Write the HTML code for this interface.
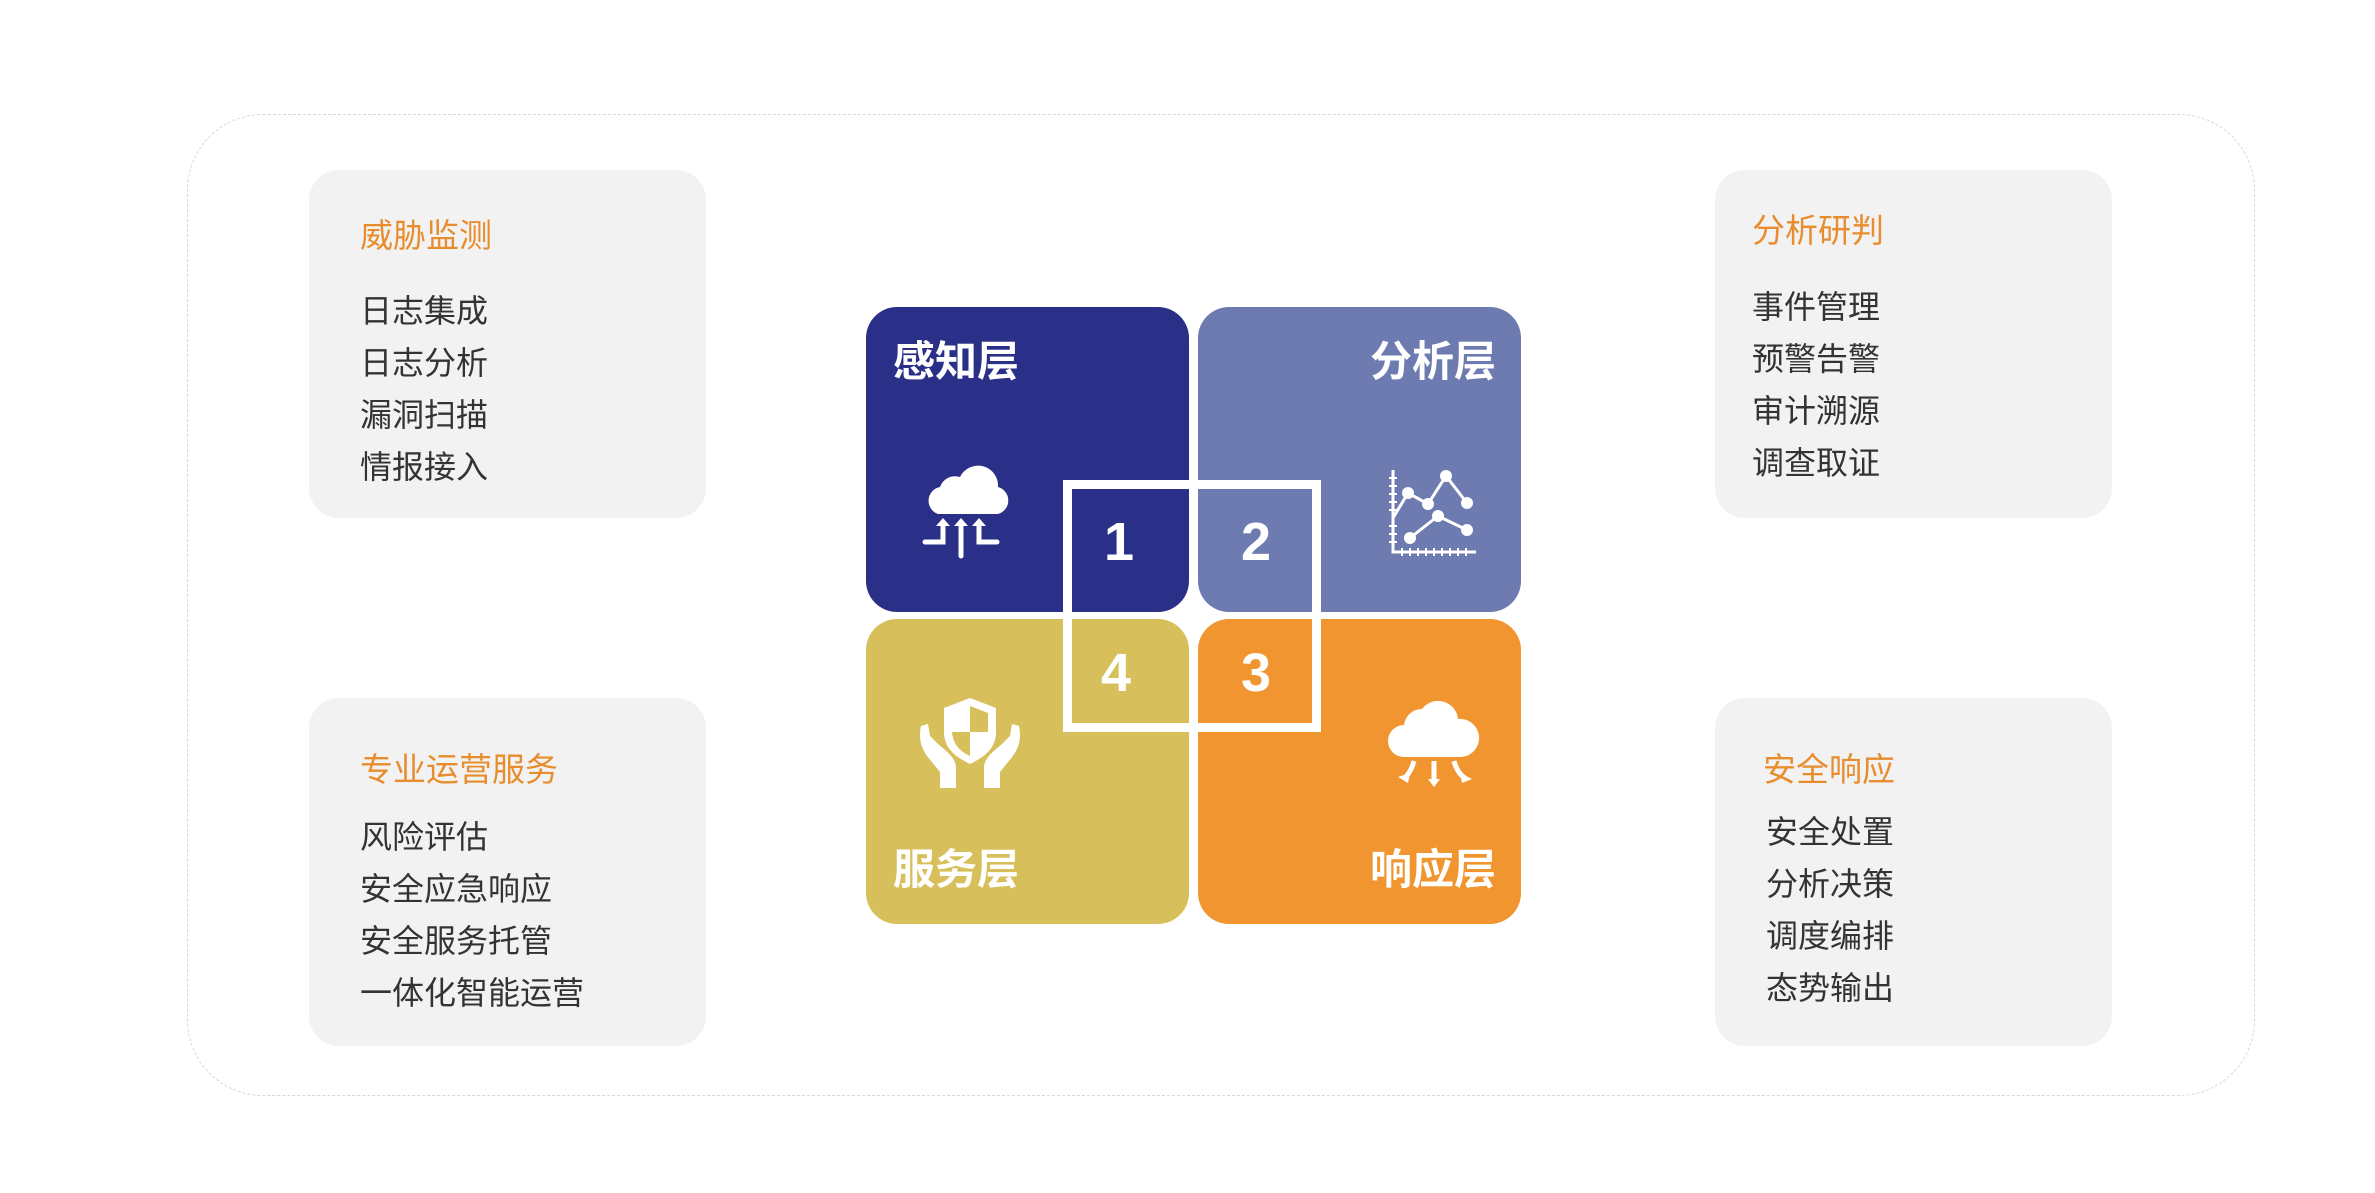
<!DOCTYPE html>
<html><head><meta charset="utf-8"><style>
*{margin:0;padding:0;box-sizing:border-box}
body{width:2375px;height:1193px;background:#fff;position:relative;overflow:hidden;font-family:"Liberation Sans","Noto Sans CJK SC",sans-serif}
.outer{position:absolute;left:187px;top:114px;width:2068px;height:982px;border:1.5px dashed #d8d8d8;border-radius:76px}
.box{position:absolute;width:397px;height:348px;background:#f2f2f2;border-radius:30px}
.t{position:absolute;color:#e88d2e;font-size:33px;line-height:40px;white-space:nowrap}
.it{position:absolute;color:#333;font-size:32px;line-height:52px;white-space:nowrap}
.q{position:absolute;width:323px;height:305px;border-radius:31px}
.qt{position:absolute;color:#fff;font-weight:bold;font-size:42px;line-height:50px;white-space:nowrap}
.num{position:absolute;color:#fff;font-size:54px;font-weight:bold;width:80px;text-align:center;line-height:60px}
svg{position:absolute}
</style></head><body>
<div class="outer"></div>

<div class="box" style="left:309px;top:170px"></div>
<div class="t" style="left:360px;top:216px">威胁监测</div>
<div class="it" style="left:360px;top:285px">日志集成<br>日志分析<br>漏洞扫描<br>情报接入</div>

<div class="box" style="left:1715px;top:170px"></div>
<div class="t" style="left:1752px;top:211px">分析研判</div>
<div class="it" style="left:1752px;top:281px">事件管理<br>预警告警<br>审计溯源<br>调查取证</div>

<div class="box" style="left:309px;top:698px"></div>
<div class="t" style="left:360px;top:750px">专业运营服务</div>
<div class="it" style="left:360px;top:811px">风险评估<br>安全应急响应<br>安全服务托管<br>一体化智能运营</div>

<div class="box" style="left:1715px;top:698px"></div>
<div class="t" style="left:1763px;top:750px">安全响应</div>
<div class="it" style="left:1766px;top:806px">安全处置<br>分析决策<br>调度编排<br>态势输出</div>

<div class="q" style="left:866px;top:307px;background:#2a2f88"></div>
<div class="q" style="left:1198px;top:307px;background:#6e7bb1"></div>
<div class="q" style="left:866px;top:619px;background:#d7c05c"></div>
<div class="q" style="left:1198px;top:619px;background:#f0952f"></div>

<div class="qt" style="left:893px;top:337px">感知层</div>
<div class="qt" style="left:1370px;top:337px">分析层</div>
<div class="qt" style="left:893px;top:845px">服务层</div>
<div class="qt" style="left:1370px;top:845px">响应层</div>

<div style="position:absolute;left:1063px;top:480px;width:258px;height:252px;border:9px solid #fff"></div>

<div class="num" style="left:1079px;top:512px">1</div>
<div class="num" style="left:1216px;top:512px">2</div>
<div class="num" style="left:1076px;top:643px">4</div>
<div class="num" style="left:1216px;top:643px">3</div>

<svg style="left:920px;top:460px" width="90" height="100" viewBox="0 0 90 100">
<path d="M18 54 a14 14 0 0 1 2-27 a16 16 0 0 1 20-10 a20 20 0 0 1 38 10 a14 14 0 0 1 0 27z" fill="#fff"/>
<g stroke="#fff" stroke-width="5" fill="none" stroke-linecap="round">
<path d="M5 82 h18 v-16"/><path d="M41 96 v-30"/><path d="M59 66 v16 h18"/></g>
<path d="M16 66 l7-8 l7 8z M34 66 l7-8 l7 8z M52 66 l7-8 l7 8z" fill="#fff"/>
</svg>

<svg style="left:1388px;top:468px" width="92" height="90" viewBox="0 0 92 90">
<g stroke="#fff" stroke-width="3" fill="none"><path d="M5 2 V84 H88"/>
<path d="M5 50 L20 25 L40 36 L58 8 L79 35"/><path d="M22 70 L50 48 L79 62"/></g>
<g stroke="#fff" stroke-width="2"><path d="M1 10h8M1 18h8M1 26h8M1 34h8M1 42h8M1 58h8M1 66h8M1 74h8M14 80v8M22 80v8M30 80v8M38 80v8M46 80v8M54 80v8M62 80v8M70 80v8M78 80v8"/></g>
<g fill="#fff"><circle cx="20" cy="25" r="6"/><circle cx="40" cy="36" r="6"/><circle cx="58" cy="8" r="6"/><circle cx="79" cy="35" r="6"/><circle cx="22" cy="70" r="6"/><circle cx="50" cy="48" r="6"/><circle cx="79" cy="62" r="6"/></g>
</svg>

<svg style="left:918px;top:696px" width="104" height="92" viewBox="0 0 104 92">
<path d="M52 2 L78 12 V36 C78 54 64 62 52 68 C40 62 26 54 26 36 V12Z" fill="#fff"/>
<path d="M52 10 L70 17 V36 H52Z M52 36 H34 C35 50 44 56 52 60Z" fill="#d7c05c"/>
<path d="M3 30 C0 45 4 55 14 66 L22 76 V92 H38 V70 C36 60 28 55 20 48 L12 40 L10 28Z" fill="#fff"/>
<path d="M101 30 C104 45 100 55 90 66 L82 76 V92 H66 V70 C68 60 76 55 84 48 L92 40 L94 28Z" fill="#fff"/>
</svg>

<svg style="left:1388px;top:697px" width="92" height="92" viewBox="0 0 92 92">
<path d="M16 60 a16 16 0 0 1 0-32 a18 18 0 0 1 18-16 a20 20 0 0 1 36 10 a16 16 0 0 1 4 38z" fill="#fff"/>
<g stroke="#fff" stroke-width="5" fill="none"><path d="M26 64 C24 72 20 78 16 82"/><path d="M46 64 V84"/><path d="M66 64 C68 72 72 78 78 82"/></g>
<path d="M10 80 L20 86 L22 76z M40 82 L52 82 L46 90z M72 76 L74 86 L84 82z" fill="#fff"/>
</svg>
</body></html>
